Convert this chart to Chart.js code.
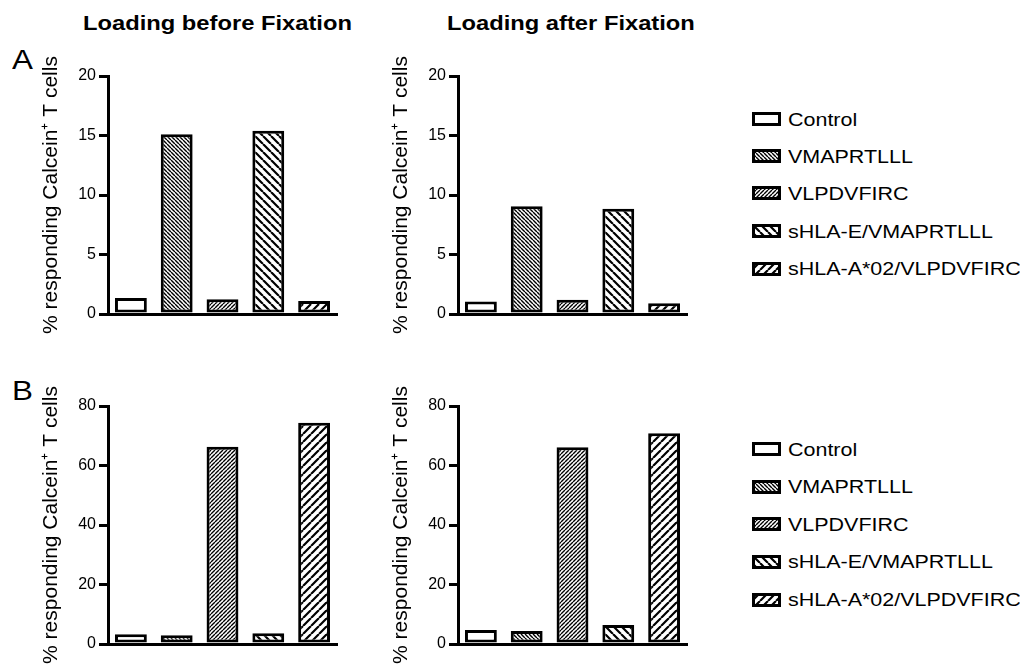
<!DOCTYPE html>
<html>
<head>
<meta charset="utf-8">
<script src="https://cdn.jsdelivr.net/npm/chart.js@4"></script>
<style>
  html, body { margin: 0; padding: 0; background: #fff; width: 1020px; height: 669px; overflow: hidden; }
  body { position: relative; font-family: "Liberation Sans", Arial, sans-serif; color: #000; }
  canvas.chart { position: absolute; }
  .txt { position: absolute; line-height: 1; white-space: nowrap; transform-origin: 0 0; }
  .ptitle { font-weight: bold; font-size: 21px; transform: scaleX(1.13); }
  .letter { font-size: 28px; transform: scaleX(1.12); }
  .legrow { position: absolute; left: 752px; height: 20px; display: flex; align-items: center; }
  .legrow canvas { display: block; }
  .legrow span { font-size: 19px; line-height: 1; margin-left: 7px; white-space: nowrap; transform: scaleX(1.13); transform-origin: 0 50%; display: inline-block; }
</style>
</head>
<body>
<div class="txt ptitle" style="left:83px; top:12px;">Loading before Fixation</div>
<div class="txt ptitle" style="left:447px; top:12px;">Loading after Fixation</div>
<div class="txt letter" style="left:12px; top:46px;">A</div>
<div class="txt letter" style="left:12px; top:377px;">B</div>

<canvas id="cA1" class="chart" width="350" height="300" style="left:-1px; top:40px;"></canvas>
<canvas id="cA2" class="chart" width="350" height="300" style="left:349px; top:40px;"></canvas>
<canvas id="cB1" class="chart" width="350" height="299" style="left:-1px; top:370px;"></canvas>
<canvas id="cB2" class="chart" width="350" height="299" style="left:349px; top:370px;"></canvas>

<div id="legA"></div>
<div id="legB"></div>

<script>
// ---- data ----
const categories = ['Control', 'VMAPRTLLL', 'VLPDVFIRC', 'sHLA-E/VMAPRTLLL', 'sHLA-A*02/VLPDVFIRC'];
const panelTitles = ['Loading before Fixation', 'Loading after Fixation'];
const yAxisTitle = '% responding Calcein\u207A T cells';
const valuesA_before = [1.35, 15.1, 1.25, 15.4, 1.1];
const valuesA_after  = [1.05, 9.05, 1.2, 8.85, 0.9];
const valuesB_before = [3.25, 2.9, 66.3, 3.6, 74.4];
const valuesB_after  = [4.7, 4.35, 66.1, 6.4, 70.8];
const ticksA = [0, 5, 10, 15, 20];
const ticksB = [0, 20, 40, 60, 80];

// ---- patterns ----
function makePattern(p, lw, dir) {
  const c = document.createElement('canvas');
  c.width = p; c.height = p;
  const g = c.getContext('2d');
  g.fillStyle = '#fff'; g.fillRect(0, 0, p, p);
  if (dir === 'none') return g.createPattern(c, 'repeat');
  g.strokeStyle = '#000'; g.lineWidth = lw; g.beginPath();
  for (let k = -1; k <= 1; k++) {
    if (dir === 'back') { g.moveTo(k * p, 0); g.lineTo(k * p + p, p); }
    else { g.moveTo(k * p, p); g.lineTo(k * p + p, 0); }
  }
  g.stroke();
  return g.createPattern(c, 'repeat');
}
const fills = [
  makePattern(4, 1, 'none'),
  makePattern(4, 1.4, 'back'),
  makePattern(4, 1.4, 'fwd'),
  makePattern(8, 2.2, 'back'),
  makePattern(8, 2.2, 'fwd')
];

const FONT = "'Liberation Sans', Arial, sans-serif";

function makeChart(id, values, tickVals, bottomPad) {
  const max = tickVals[tickVals.length - 1];
  const step = tickVals[1] - tickVals[0];
  return new Chart(document.getElementById(id), {
    type: 'bar',
    data: {
      labels: categories,
      datasets: [{
        data: values,
        backgroundColor: fills,
        borderColor: '#000',
        borderWidth: 3,
        borderSkipped: false,
        barPercentage: 32 / 46,
        categoryPercentage: 1.0
      }]
    },
    options: {
      responsive: false,
      animation: false,
      devicePixelRatio: 1,
      layout: { padding: { left: 0, right: 12, top: 36, bottom: bottomPad } },
      plugins: { legend: { display: false }, tooltip: { enabled: false }, title: { display: false } },
      scales: {
        x: {
          type: 'category',
          ticks: { display: false },
          grid: { display: false, drawTicks: false },
          border: { display: true, color: '#000', width: 3 },
          afterFit: s => { s.height = 0; }
        },
        y: {
          min: 0, max: max,
          ticks: {
            stepSize: step,
            color: '#000',
            padding: 3,
            font: { family: FONT, size: 16 },
            callback: v => String(v)
          },
          grid: { display: true, drawOnChartArea: false, drawTicks: true, tickLength: 9, tickWidth: 3, tickColor: '#000', lineWidth: 3, color: '#000' },
          border: { display: true, color: '#000', width: 3 },
          title: {
            display: true,
            text: yAxisTitle,
            color: '#000',
            font: { family: FONT, size: 21 },
            padding: { top: 40, bottom: 0 }
          },
          afterFit: s => { s.width = 109; }
        }
      }
    }
  });
}

makeChart('cA1', valuesA_before, ticksA, 26);
makeChart('cA2', valuesA_after, ticksA, 26);
makeChart('cB1', valuesB_before, ticksB, 25);
makeChart('cB2', valuesB_after, ticksB, 25);

// ---- legends ----
function buildLegend(containerId, centers) {
  const cont = document.getElementById(containerId);
  categories.forEach((name, i) => {
    const row = document.createElement('div');
    row.className = 'legrow';
    row.style.top = (centers[i] - 10) + 'px';
    const sw = document.createElement('canvas');
    sw.width = 29; sw.height = 14;
    const g = sw.getContext('2d');
    g.fillStyle = fills[i]; g.fillRect(0, 0, 29, 14);
    g.strokeStyle = '#000'; g.lineWidth = 3; g.strokeRect(1.5, 1.5, 26, 11);
    row.appendChild(sw);
    const sp = document.createElement('span');
    sp.textContent = name;
    row.appendChild(sp);
    cont.appendChild(row);
  });
}
buildLegend('legA', [119, 156, 193, 231, 268.5]);
buildLegend('legB', [449, 486.5, 524, 561.5, 599.5]);
</script>
</body>
</html>
